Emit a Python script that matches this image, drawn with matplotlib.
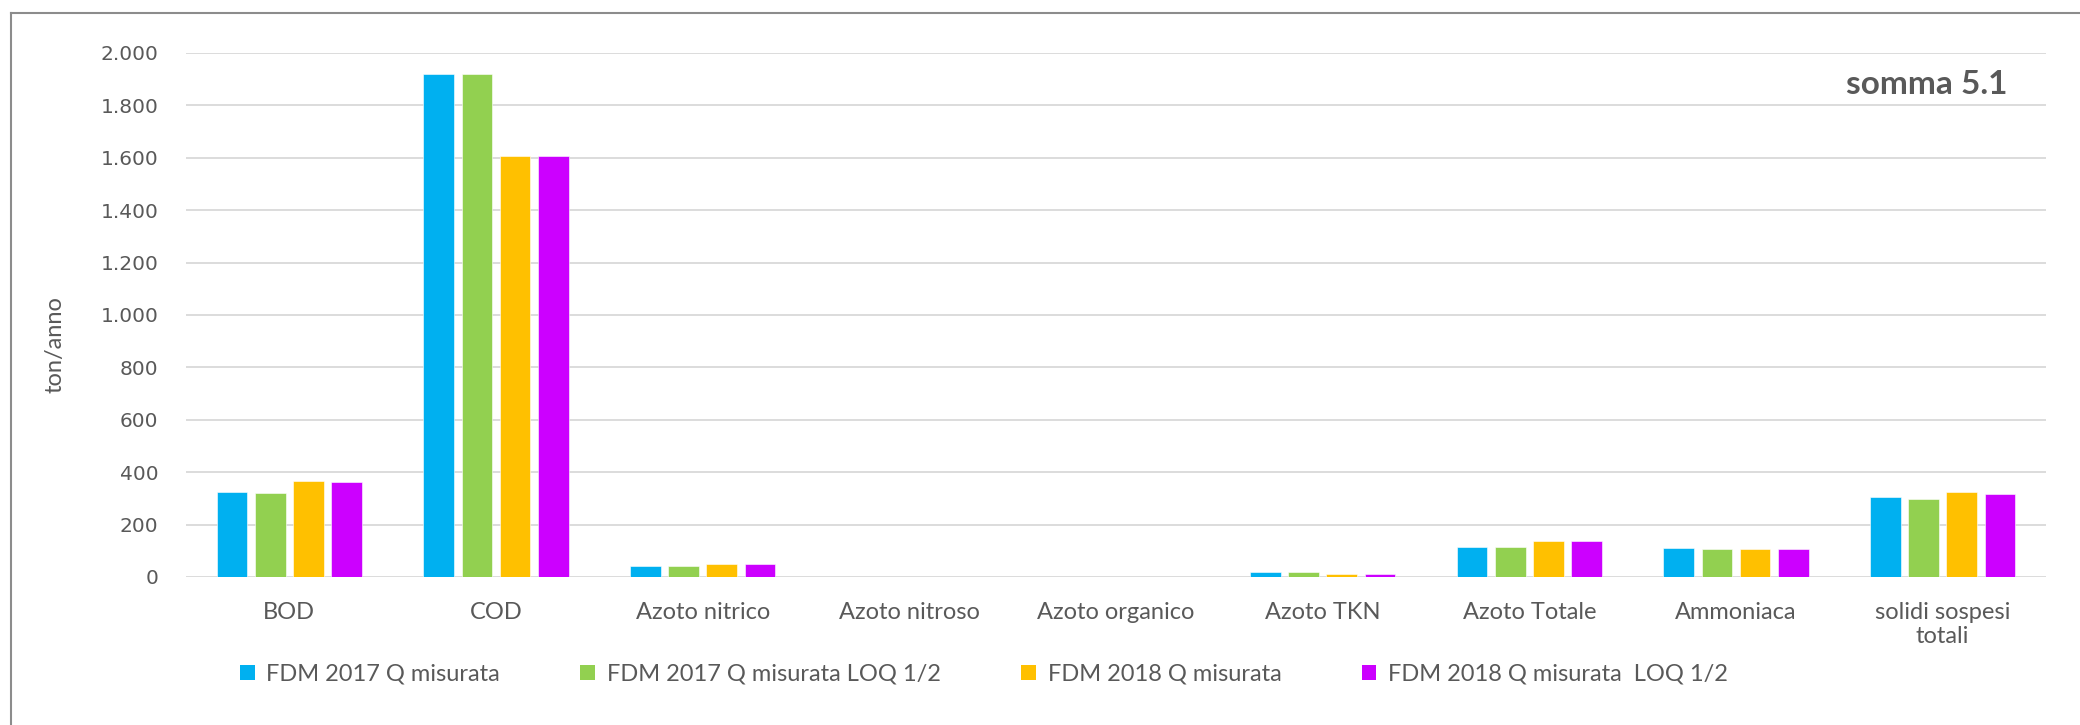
import matplotlib
matplotlib.use("Agg")
import matplotlib.pyplot as plt
from matplotlib.patches import Patch
from matplotlib.lines import Line2D
import numpy as np

categories = ["BOD", "COD", "Azoto nitrico", "Azoto nitroso", "Azoto organico",
              "Azoto TKN", "Azoto Totale", "Ammoniaca", "solidi sospesi\ntotali"]
series_names = ["FDM 2017 Q misurata", "FDM 2017 Q misurata LOQ 1/2",
                "FDM 2018 Q misurata", "FDM 2018 Q misurata  LOQ 1/2"]
fdm2017 = [326, 1920, 42, 0, 0, 19, 114, 109, 305]
fdm2017_loq = [322, 1920, 42, 0, 0, 18, 113, 108, 297]
fdm2018 = [366, 1605, 48, 0, 0, 13, 137, 106, 324]
fdm2018_loq = [364, 1605, 48, 0, 0, 13, 137, 105, 316]
yticks = [0, 200, 400, 600, 800, 1000, 1200, 1400, 1600, 1800, 2000]
ytick_labels = ["0", "200", "400", "600", "800", "1.000", "1.200", "1.400",
                "1.600", "1.800", "2.000"]
colors = ["#00B0F0", "#92D050", "#FFC000", "#CC00FF"]

W, H = 2080, 725
fig = plt.figure(figsize=(W / 100, H / 100), dpi=100)
fig.patch.set_facecolor("white")

# plot area in pixel coords
L, R, T, B = 186, 2046, 53, 577
ax = fig.add_axes([L / W, 1 - B / H, (R - L) / W, (B - T) / H])

text_col = "#595959"
font_main = "Lato"

x = np.arange(len(categories))
spacing = 0.185
bw = 0.1485
all_series = [fdm2017, fdm2017_loq, fdm2018, fdm2018_loq]
for i, (vals, c) in enumerate(zip(all_series, colors)):
    ax.bar(x + (i - 1.5) * spacing, vals, width=bw, color=c, zorder=3,
           edgecolor="white", linewidth=0.4)

ax.set_xlim(-0.5, len(categories) - 0.5)
ax.set_ylim(0, 2000)
ax.set_yticks(yticks)
ax.set_yticklabels(ytick_labels, fontfamily="DejaVu Sans", fontsize=14.5, color=text_col)
ax.set_xticks(x)
ax.set_xticklabels(categories, fontfamily=font_main, fontsize=17, color=text_col,
                   linespacing=1.15)
ax.tick_params(axis="y", length=0, pad=20)
ax.tick_params(axis="x", length=0, pad=18)
ax.grid(axis="y", color="#D9D9D9", linewidth=1.3, zorder=0)
for s in ax.spines.values():
    s.set_visible(False)

# y label
fig.text(55 / W, 1 - 345 / H, "ton/anno", rotation=90, ha="center", va="center",
         fontfamily=font_main, fontsize=17, color=text_col)

# title inside plot
fig.text(2007 / W, 1 - 94 / H, "somma 5.1", ha="right", va="baseline",
         fontfamily=font_main, fontweight="bold", fontsize=24, color=text_col)

# legend
handles = [Patch(facecolor=c, edgecolor="none") for c in colors]
leg = fig.legend(handles, series_names, ncol=4, loc="center left",
                 bbox_to_anchor=(240 / W, 1 - 674 / H), frameon=False,
                 prop={"family": font_main, "size": 17},
                 handlelength=0.62, handleheight=0.62, handletextpad=0.5,
                 columnspacing=3.4, borderpad=0, borderaxespad=0)
for t in leg.get_texts():
    t.set_color(text_col)

# chart border (left and top visible)
fig.add_artist(Line2D([11 / W, 11 / W], [0, 1 - 13 / H], transform=fig.transFigure,
                      color="#8C8C8C", linewidth=1.5))
fig.add_artist(Line2D([11 / W, 1], [1 - 13 / H, 1 - 13 / H], transform=fig.transFigure,
                      color="#8C8C8C", linewidth=1.5))

fig.savefig("out.png", dpi=100, facecolor="white")
